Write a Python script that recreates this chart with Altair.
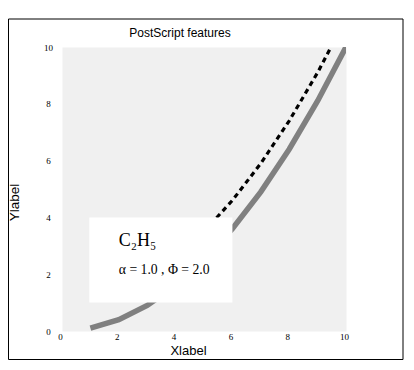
import altair as alt
import pandas as pd

# data
xs = [1, 2, 3, 4, 5, 6, 7, 8, 9, 10]
solid_y = [0.1, 0.4, 0.9, 1.6, 2.5, 3.6, 4.9, 6.4, 8.1, 10.0]
dashed_y = [1.1, 1.4, 1.9, 2.6, 3.5, 4.6, 5.9, 7.4, 9.1, 11.0]
ticks = [0, 2, 4, 6, 8, 10]
box_x = [0.96, 6]
box_y = [1, 4]
label_x = [2, 2]
label_y = [3, 2]
label_text = ["C₂H₅", "α = 1.0 , Φ = 2.0"]
label_size = [18, 13.7]
title_text = ["PostScript features"]

lines = pd.DataFrame({"x": xs, "solid": solid_y, "dashed": dashed_y})
box = pd.DataFrame({"x": [box_x[0]], "x2": [box_x[1]], "y": [box_y[0]], "y2": [box_y[1]]})
labels = pd.DataFrame({"x": label_x, "y": label_y, "t": label_text, "s": label_size})
titles = pd.DataFrame({"t": title_text})

xscale = alt.Scale(domain=[0, 10], nice=False)
yscale = alt.Scale(domain=[0, 10], nice=False)

xaxis = alt.Axis(values=ticks, grid=False, domain=False, ticks=False, labelPadding=1.5,
                 labelFlush=False, labelOffset=-2,
                 labelFont="Liberation Serif", labelFontSize=9, labelColor="black",
                 title="Xlabel", titleFont="Liberation Sans", titleFontSize=13,
                 titleFontWeight="normal", titleColor="black",
                 titleX=126, titleY=19, titleBaseline="middle", titleAlign="center")
yaxis = alt.Axis(values=ticks, grid=False, domain=False, ticks=False, labelPadding=14,
                 labelFlush=False,
                 labelAlign="center", labelBaseline="middle",
                 labelFont="Liberation Serif", labelFontSize=9, labelColor="black",
                 title="Ylabel", titleFont="Liberation Sans", titleFontSize=13.5,
                 titleFontWeight="normal", titleColor="black",
                 titleX=-48, titleY=155, titleBaseline="middle", titleAlign="center",
                 titleAngle=-90)

base = alt.Chart(lines)

solid = base.mark_line(color="#808080", strokeWidth=5.5, clip=True).encode(
    x=alt.X("x:Q", scale=xscale, axis=xaxis),
    y=alt.Y("solid:Q", scale=yscale, axis=yaxis),
)

dashed = base.mark_line(color="black", strokeWidth=3.2, strokeDash=[5, 4], clip=True).encode(
    x=alt.X("x:Q", scale=xscale),
    y=alt.Y("dashed:Q", scale=yscale),
)

rect = alt.Chart(box).mark_rect(fill="white").encode(
    x=alt.X("x:Q", scale=xscale), x2="x2:Q",
    y=alt.Y("y:Q", scale=yscale), y2="y2:Q",
)

text = alt.Chart(labels).mark_text(align="left", baseline="alphabetic",
                                   font="Liberation Serif", color="black").encode(
    x=alt.X("x:Q", scale=xscale),
    y=alt.Y("y:Q", scale=yscale),
    text="t:N",
    size=alt.Size("s:Q", scale=None, legend=None),
)

title = alt.Chart(titles).mark_text(align="center", baseline="middle", font="Liberation Sans",
                                    fontSize=12, color="black").encode(
    x=alt.value(118), y=alt.value(-14), text="t:N"
)

frame = alt.Chart(box).mark_rect(fill="transparent", stroke="black", strokeWidth=1, clip=False).encode(
    x=alt.value(-53.5), x2=alt.value(341), y=alt.value(-28), y2=alt.value(312.5)
)

chart = alt.layer(solid, dashed, rect, text, title, frame).properties(
    width=284, height=284,
    autosize=alt.AutoSizeParams(type="none"),
    padding={"left": 54, "top": 39, "right": 60, "bottom": 35},
).configure(background="white").configure_view(fill="#f0f0f0", stroke="transparent")

chart.save("out.html", embed_options={"renderer": "svg", "actions": False})
